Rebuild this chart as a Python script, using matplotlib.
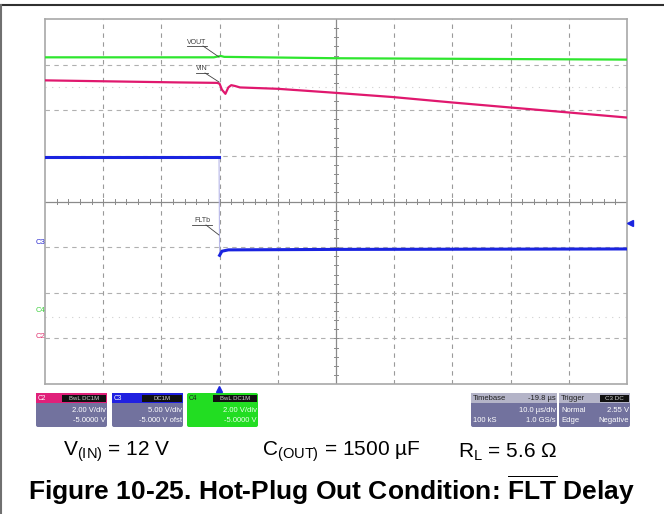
import matplotlib
matplotlib.use("Agg")
import matplotlib.pyplot as plt
from matplotlib.patches import Rectangle, FancyBboxPatch

plt.rcParams['font.family'] = ['Liberation Sans', 'DejaVu Sans']
plt.rcParams['mathtext.fontset'] = 'custom'
plt.rcParams['mathtext.rm'] = 'Liberation Sans'
plt.rcParams['mathtext.bf'] = 'Liberation Sans:bold'

# scope traces, in screen divisions (x: 10 us/div, y: center = 0)
vout_t = [0, 2.9, 3.02, 3.08, 5, 7.5, 10]
vout_y = [3.16, 3.16, 3.19, 3.17, 3.14, 3.125, 3.11]

vin_t = [0, 2.29, 2.96, 3.0, 3.04, 3.1, 3.15, 3.2, 3.27, 3.35, 4.0, 4.9, 5.97, 7.0, 8.0, 9.01, 10]
vin_y = [2.655, 2.61, 2.6, 2.58, 2.45, 2.36, 2.5, 2.55, 2.53, 2.5, 2.47, 2.39, 2.29, 2.17, 2.06, 1.95, 1.84]

flt_t = [0, 2.99, 3.0, 3.04, 3.15, 5, 10]
flt_y = [0.97, 0.97, -1.18, -1.09, -1.06, -1.05, -1.04]

# channel info boxes
ch_names = ["C2", "C3", "C4"]
ch_tags = ["BwL DC1M", "DC1M", "BwL DC1M"]
ch_vdiv = ["2.00 V/div", "5.00 V/div", "2.00 V/div"]
ch_ofst = ["-5.0000 V", "-5.000 V ofst", "-5.0000 V"]

fig = plt.figure(figsize=(6.64, 5.14), dpi=100)

# ---- scope screen
ax = fig.add_axes([45 / 664, (514 - 384) / 514, (627 - 45) / 664, (384 - 19) / 514])
ax.set_xlim(0, 10)
ax.set_ylim(-4, 4)
for s in ax.spines.values():
    s.set_color('#a8a8a8')
    s.set_linewidth(1.2)
ax.set_xticks([])
ax.set_yticks([])

for i in range(1, 10):
    if i != 5:
        ax.axvline(i, color='#9a9a9a', lw=0.8, ls=(0, (4, 4)), zorder=1)
for j in range(-3, 4):
    if j != 0:
        ax.axhline(j, color='#b0b0b0', lw=0.8, ls=(0, (4, 4)), zorder=1)
ax.axhline(0, color='#8a8a8a', lw=0.9, zorder=1)
ax.axvline(5, color='#8a8a8a', lw=0.9, zorder=1)
for k in range(1, 50):
    x = k * 0.2
    ax.plot([x, x], [-0.06, 0.06], color='#8a8a8a', lw=0.7, zorder=1)
for k in range(1, 40):
    y = -4 + k * 0.2
    ax.plot([4.96, 5.04], [y, y], color='#8a8a8a', lw=0.7, zorder=1)
ax.axhline(2.52, color='#d0d0d0', lw=0.8, ls=(0, (1, 5)), zorder=1)
ax.axhline(-2.54, color='#d0d0d0', lw=0.8, ls=(0, (1, 5)), zorder=1)

ax.plot(vout_t, vout_y, color='#2ee62e', lw=1.6, zorder=3)
ax.plot(vin_t, vin_y, color='#e0186e', lw=1.6, zorder=3)
ax.plot(flt_t, flt_y, color='#b8b8e8', lw=0.8, zorder=2)
ax.plot(flt_t[:2], flt_y[:2], color='#1a24e0', lw=2.2, zorder=3)
ax.plot(flt_t[2:], flt_y[2:], color='#1a24e0', lw=2.2, zorder=3)

# ---- overlay in pixel coordinates
ov = fig.add_axes([0, 0, 1, 1])
ov.set_xlim(0, 664)
ov.set_ylim(514, 0)
ov.axis('off')
ov.patch.set_alpha(0)

ov.plot([0, 664], [5, 5], color='#303030', lw=1.5)
ov.plot([1, 1], [5, 514], color='#707070', lw=1.5)

lab = dict(fontsize=5, color='#404040', ha='center', va='center')
ov.text(197, 42, "VOUT", **lab)
ov.plot([187, 207], [45.5, 45.5], color='#404040', lw=0.6)
ov.plot([203, 219], [46, 57], color='#404040', lw=0.6)
ov.text(202, 69, "VIN", **lab)
ov.plot([196, 208], [72.5, 72.5], color='#404040', lw=0.6)
ov.plot([205, 219], [73, 82], color='#404040', lw=0.6)
ov.text(202, 221, "FLTb", **lab)
ov.plot([192, 212], [224.5, 224.5], color='#404040', lw=0.6)
ov.plot([206, 219], [225, 235], color='#404040', lw=0.6)

ov.text(40, 243, "C3", fontsize=5.5, color='#2a2ad0', ha='center', va='center')
ov.text(40, 311, "C4", fontsize=5.5, color='#40d040', ha='center', va='center')
ov.text(40, 336, "C2", fontsize=5.5, color='#e0306e', ha='center', va='center')
ov.plot([630], [223], marker='<', color='#1a24e0', ms=4)
ov.plot([219], [389], marker='^', color='#1a24e0', ms=4)

body = '#72729e'
hdr_cols = ['#e0207a', '#2020e0', '#22dd22']
box_x = [36, 112, 187]
for k in range(3):
    x0 = box_x[k]
    if k == 2:
        ov.add_patch(FancyBboxPatch((x0, 393), 71, 34, boxstyle="round,pad=0,rounding_size=2",
                                    fc='#22dd22', ec='none'))
        tc = '#e8ffe8'
    else:
        ov.add_patch(FancyBboxPatch((x0, 393), 71, 34, boxstyle="round,pad=0,rounding_size=2",
                                    fc=body, ec='none'))
        ov.add_patch(Rectangle((x0, 393), 71, 10, fc=hdr_cols[k], ec='none'))
        tc = 'white'
    ov.text(x0 + 2, 398, ch_names[k], fontsize=4.8, color='white' if k < 2 else '#202020',
            va='center', ha='left')
    bw = 44 if k != 1 else 40
    ov.add_patch(Rectangle((x0 + 70 - bw, 394.5), bw, 7, fc='#101010', ec='none'))
    ov.text(x0 + 70 - bw / 2, 398, ch_tags[k], fontsize=4.3, color='#d0d0d0',
            va='center', ha='center')
    ov.text(x0 + 70, 411, ch_vdiv[k], fontsize=5.5, color=tc, ha='right', va='center')
    ov.text(x0 + 70, 421, ch_ofst[k], fontsize=5.5, color=tc, ha='right', va='center')

# timebase / trigger boxes
for x0, w in [(471, 86), (559, 71)]:
    ov.add_patch(FancyBboxPatch((x0, 393), w, 34, boxstyle="round,pad=0,rounding_size=2",
                                fc=body, ec='none'))
    ov.add_patch(Rectangle((x0, 393), w, 10, fc='#b4b4c8', ec='none'))
tb = dict(fontsize=5.5, va='center')
ov.text(473, 398, "Timebase", color='#202020', ha='left', **tb)
ov.text(556, 398, "-19.8 µs", color='#202020', ha='right', **tb)
ov.text(556, 411, "10.0 µs/div", color='white', ha='right', **tb)
ov.text(473, 421, "100 kS", color='white', ha='left', **tb)
ov.text(556, 421, "1.0 GS/s", color='white', ha='right', **tb)
ov.text(561, 398, "Trigger", color='#202020', ha='left', **tb)
ov.add_patch(Rectangle((600, 394.5), 29, 7, fc='#101010', ec='none'))
ov.text(614.5, 398, "C3 DC", fontsize=4.5, color='#d0d0d0', ha='center', va='center')
ov.text(561, 411, "Normal", color='white', ha='left', **tb)
ov.text(629, 411, "2.55 V", color='white', ha='right', **tb)
ov.text(561, 421, "Edge", color='white', ha='left', **tb)
ov.text(629, 421, "Negative", color='white', ha='right', **tb)

# ---- caption
cap = dict(fontsize=15, color='black', va='center', ha='left')
ov.text(63, 452, r"$\mathrm{V_{(IN)}}$ = 12 V", **cap)
ov.text(262, 452, r"$\mathrm{C_{(OUT)}}$ = 1500 µF", **cap)
ov.text(458, 452, r"$\mathrm{R_{L}}$ = 5.6 Ω", **cap)
ov.text(332, 490, r"Figure 10-25. Hot-Plug Out Condition: $\mathbf{\overline{FLT}}$ Delay",
        fontsize=19, fontweight='bold', color='black', ha='center', va='center')

fig.savefig("out.png", dpi=100)
